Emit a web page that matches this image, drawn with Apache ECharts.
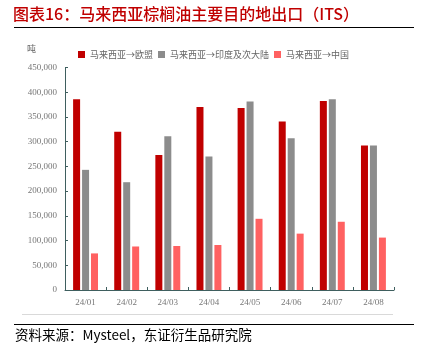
<!DOCTYPE html>
<html>
<head>
<meta charset="utf-8">
<script src="https://cdn.jsdelivr.net/npm/echarts@6/dist/echarts.min.js"></script>
<style>
  html, body { margin: 0; padding: 0; background: #fff; }
  #main { width: 428px; height: 354px; }
</style>
</head>
<body>
<div id="main"></div>
<script>
// data
var months = ['24/01', '24/02', '24/03', '24/04', '24/05', '24/06', '24/07', '24/08'];
var toEU = [386000, 320000, 273000, 370000, 368000, 341000, 382000, 292000];
var toIndia = [243000, 218000, 311000, 270000, 381000, 307000, 386000, 292000];
var toChina = [74000, 88000, 89000, 91000, 144000, 114000, 138000, 106000];

var serif = '"Liberation Serif", "Noto Sans CJK SC", serif';
var cjk = '"Noto Sans CJK SC", sans-serif';

var chart = echarts.init(document.getElementById('main'));

var option = {
  backgroundColor: '#fff',
  animation: false,
  graphic: [
    {
      type: 'text', left: 13, top: 6,
      style: { text: '图表16：马来西亚棕榈油主要目的地出口（ITS）', fill: '#C00000', font: '500 16px ' + cjk }
    },
    { type: 'line', shape: { x1: 14, y1: 27.5, x2: 414, y2: 27.5 }, style: { stroke: '#000', lineWidth: 1 } },
    {
      type: 'text', left: 27, top: 44,
      style: { text: '吨', fill: '#666', font: '9px ' + cjk }
    },
    { type: 'line', shape: { x1: 22, y1: 314.5, x2: 393, y2: 314.5 }, style: { stroke: '#d9d9d9', lineWidth: 1 } },
    { type: 'line', shape: { x1: 14, y1: 324.5, x2: 414, y2: 324.5 }, style: { stroke: '#000', lineWidth: 1 } },
    {
      type: 'text', left: 15, top: 328,
      style: { text: '资料来源：Mysteel，东证衍生品研究院', fill: '#000', font: '13.5px ' + cjk }
    }
  ],
  legend: {
    top: 45, left: 73,
    icon: 'rect',
    itemWidth: 7, itemHeight: 7, itemGap: 5,
    textStyle: { color: '#666', fontSize: 9, fontFamily: cjk },
    data: ['马来西亚→欧盟', '马来西亚→印度及次大陆', '马来西亚→中国']
  },
  grid: { left: 65, right: 34, top: 67.5, bottom: 64, containLabel: false },
  xAxis: {
    type: 'category',
    data: months,
    axisLine: { lineStyle: { color: '#3F5F5F', width: 1 } },
    axisTick: { show: true, inside: true, length: 3, lineStyle: { color: '#3F5F5F' } },
    axisLabel: { color: '#777', fontSize: 9, fontFamily: serif, margin: 8 }
  },
  yAxis: {
    type: 'value',
    min: 0, max: 450000, interval: 50000,
    axisLine: { show: true, lineStyle: { color: '#3F5F5F', width: 1 } },
    axisTick: { show: true, inside: true, length: 3, lineStyle: { color: '#3F5F5F' } },
    splitLine: { show: false },
    axisLabel: {
      color: '#777', fontSize: 9, fontFamily: serif, margin: 8,
      formatter: function (v) { return v.toLocaleString('en-US'); }
    }
  },
  series: [
    {
      name: '马来西亚→欧盟', type: 'bar', data: toEU,
      barWidth: 7, barGap: '28%', barCategoryGap: '39%',
      itemStyle: { color: '#C00000' }
    },
    {
      name: '马来西亚→印度及次大陆', type: 'bar', data: toIndia,
      barWidth: 7, barGap: '28%',
      itemStyle: { color: '#8C8C8C' }
    },
    {
      name: '马来西亚→中国', type: 'bar', data: toChina,
      barWidth: 7, barGap: '28%',
      itemStyle: { color: '#FF6161' }
    }
  ]
};

chart.setOption(option);
</script>
</body>
</html>
